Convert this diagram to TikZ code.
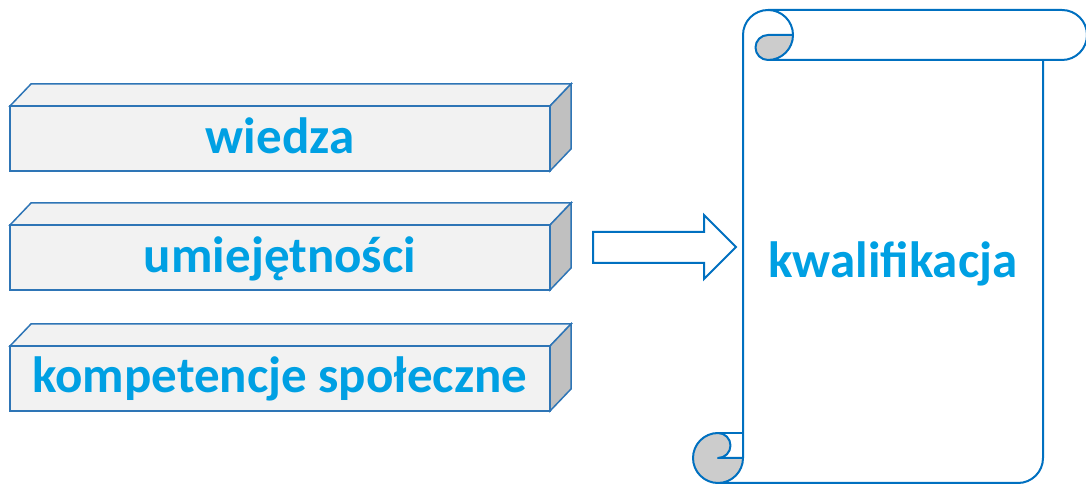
\documentclass[tikz,border=0pt]{standalone}
\usepackage{fontspec}
\setmainfont{Carlito}
\definecolor{boxline}{RGB}{46,117,182}
\definecolor{scrollline}{RGB}{0,112,192}
\definecolor{txtblue}{RGB}{0,160,227}
\definecolor{frontfill}{RGB}{242,242,242}
\definecolor{sidefill}{RGB}{192,192,192}
\definecolor{curlfill}{RGB}{204,204,204}
\tikzset{
  barface/.style={draw=boxline, line width=1.5pt, line join=miter},
  lbl/.style={text=txtblue, font=\fontsize{51}{61}\selectfont\bfseries, inner sep=0pt, anchor=base},
  scr/.style={draw=scrollline, line width=2pt, line join=round},
  bar3d/.pic={
    \path[barface, fill=frontfill] (0,0) -- (21,22) -- (561,22) -- (540,0) -- cycle;
    \path[barface, fill=sidefill] (540,0) -- (561,22) -- (561,-43) -- (540,-65) -- cycle;
    \path[barface, fill=frontfill] (0,0) rectangle (540,-65);
  }
}
\begin{document}
\begin{tikzpicture}[x=1pt,y=1pt]
\useasboundingbox (0,0) rectangle (1086,484);
% bars
\pic at (10,378) {bar3d};
\pic at (10,259) {bar3d};
\pic at (10,138) {bar3d};
\node[lbl] (wiedza) at (280,330) {wiedza};
\node[lbl] (umiej) at (280,211) {umiejętności};
\node[lbl] (komp) at (280,91) {kompetencje społeczne};
% block arrow
\draw[scr, line join=miter] (593,252) -- (704,252) -- (704,269) -- (736,237) -- (704,205) -- (704,221) -- (593,221) -- cycle;
% scroll
\draw[scr] (743,26) -- (743,449) arc[start angle=180, end angle=0, radius=25];
\draw[scr] (768,474) -- (1062,474) arc[start angle=90, end angle=-90, radius=25] -- (768,424);
\draw[scr, fill=curlfill] (768,449) -- (793,449) arc[start angle=0, end angle=-90, radius=25]
  arc[start angle=-90, end angle=-270, radius=12.5] -- cycle;
\draw[scr] (1043,424) -- (1043,26) arc[start angle=0, end angle=-90, radius=25] -- (718,1);
\draw[scr] (718,51) -- (743,51);
\draw[scr, fill=curlfill] (743,26) arc[start angle=0, end angle=-270, radius=25]
  arc[start angle=90, end angle=-90, radius=12.5] -- cycle;
\node[lbl] (kwal) at (893,206) {kwalifikacja};
\end{tikzpicture}
\end{document}
